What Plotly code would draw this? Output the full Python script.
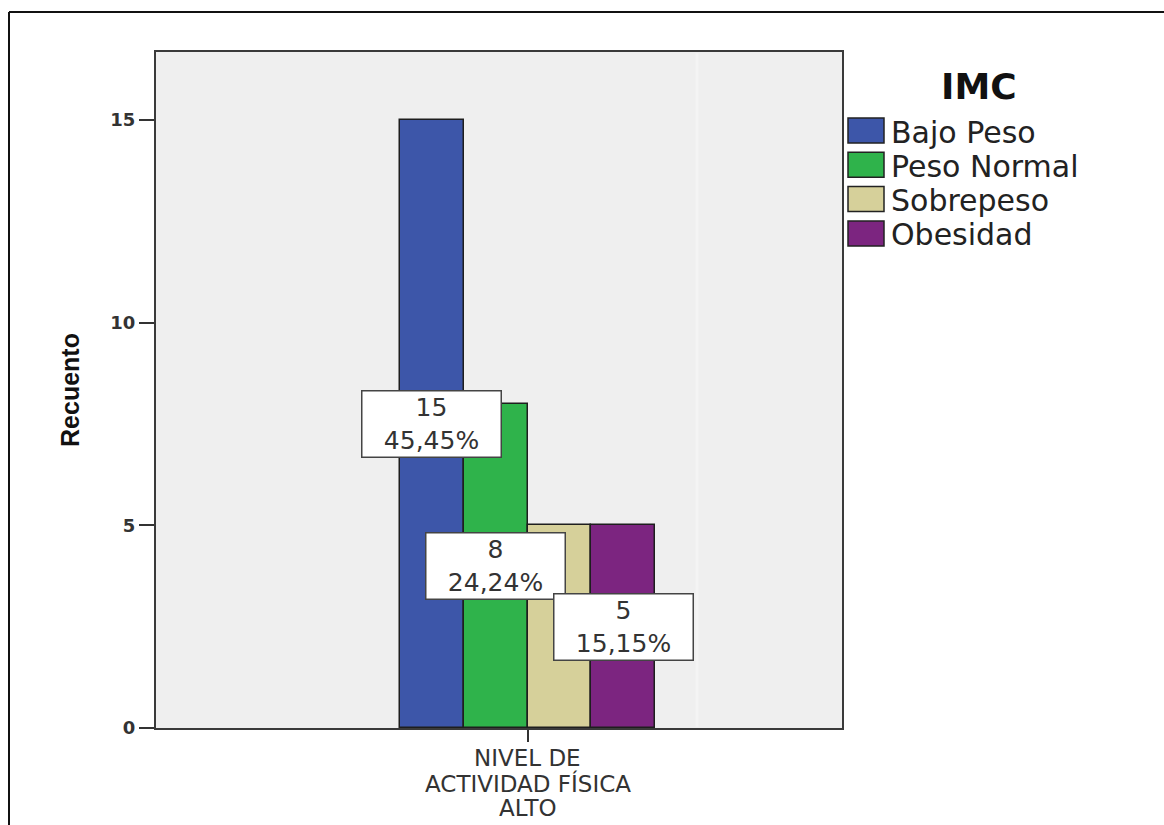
import plotly.graph_objects as go

# ---- data ----
CATEGORY_LINES = ["NIVEL DE", "ACTIVIDAD FÍSICA", "ALTO"]
SERIES = ["Bajo Peso", "Peso Normal", "Sobrepeso", "Obesidad"]
COUNTS = [15, 8, 5, 5]
COLORS = ["#3d56a9", "#2fb34b", "#d6d09a", "#7c2580"]
LABEL_SHOWN = [True, True, False, True]
Y_TICKS = [0, 5, 10, 15]
LEGEND_TITLE = "IMC"
Y_TITLE = "Recuento"

TOTAL = sum(COUNTS)

W, H = 1164, 825
ML, MR, MT, MB = 156, W - 842, 52, H - 728
PW, PH = W - ML - MR, H - MT - MB


def px_x(px):
    return (px - ML) / PW


def px_y(py):
    return (H - MB - py) / PH


fig = go.Figure()
for name, cnt, col in zip(SERIES, COUNTS, COLORS):
    fig.add_trace(go.Bar(
        x=[0], y=[cnt], name=name,
        marker=dict(color=col, line=dict(color="#1e1e1e", width=1.5)),
        showlegend=False, hoverinfo="skip",
    ))

# data labels (bordered boxes at mid-height of the bar)
n = len(SERIES)
annotations = []
for i, (cnt, show) in enumerate(zip(COUNTS, LABEL_SHOWN)):
    if not show:
        continue
    pct = f"{cnt / TOTAL * 100:.2f}".replace(".", ",")
    annotations.append(dict(
        x=(i - (n - 1) / 2) / n, y=cnt / 2, xref="x", yref="y",
        text=f"{cnt}<br>{pct}%", showarrow=False,
        font=dict(family="DejaVu Sans", size=25, color="#333333"),
        bgcolor="#ffffff", bordercolor="#444444", borderwidth=1.5,
        borderpad=1, width=136, height=63, align="center",
    ))

# category label, one line per annotation for tight line spacing
for j, line in enumerate(CATEGORY_LINES):
    annotations.append(dict(
        x=0, xref="x", y=px_y(758 + 25 * j), yref="paper",
        text=line, showarrow=False, xanchor="center", yanchor="middle",
        font=dict(family="DejaVu Sans", size=23, color="#333333"),
    ))

# legend (drawn manually to match swatch size)
shapes = []
annotations.append(dict(
    x=px_x(979), y=px_y(86), xref="paper", yref="paper",
    text=LEGEND_TITLE, showarrow=False, xanchor="center", yanchor="middle",
    font=dict(family="DejaVu Sans", size=36, color="#111111", weight="bold"),
))
for i, (name, col) in enumerate(zip(SERIES, COLORS)):
    top = 118 + i * 34.3
    shapes.append(dict(
        type="rect", xref="paper", yref="paper",
        x0=px_x(848), x1=px_x(884), y0=px_y(top + 25), y1=px_y(top),
        fillcolor=col, line=dict(color="#222222", width=1.5),
    ))
    annotations.append(dict(
        x=px_x(889), y=px_y(top + 14), xref="paper", yref="paper",
        text=name, showarrow=False, xanchor="left", yanchor="middle",
        font=dict(family="DejaVu Sans", size=30, color="#222222"),
    ))

# outer frame (left and top edges visible in the picture)
shapes.append(dict(
    type="line", xref="paper", yref="paper",
    x0=px_x(9), x1=px_x(9), y0=px_y(825), y1=px_y(12),
    line=dict(color="#111111", width=2),
))
shapes.append(dict(
    type="line", xref="paper", yref="paper",
    x0=px_x(9), x1=px_x(1164), y0=px_y(12), y1=px_y(12),
    line=dict(color="#111111", width=2),
))
# faint inner band line
shapes.append(dict(
    type="line", xref="paper", yref="paper",
    x0=px_x(697), x1=px_x(697), y0=0.002, y1=0.998,
    line=dict(color="#f4f4f4", width=3), layer="below",
))

unit = 255.0
fig.update_layout(
    width=W, height=H,
    margin=dict(l=ML, r=MR, t=MT, b=MB, pad=0, autoexpand=False),
    paper_bgcolor="#ffffff", plot_bgcolor="#efefef",
    barmode="group", bargap=0, bargroupgap=0,
    showlegend=False,
    shapes=shapes, annotations=annotations,
    xaxis=dict(
        range=[-(527.5 - 156) / unit, (842 - 527.5) / unit],
        tickvals=[0], showticklabels=False,
        ticks="outside", ticklen=12, tickwidth=2, tickcolor="#333333",
        automargin=False,
        showline=True, linecolor="#3a3a3a", linewidth=2, mirror=True,
        showgrid=False, zeroline=False, fixedrange=True,
    ),
    yaxis=dict(
        range=[0, (728 - 52) / ((728 - 120) / 15)],
        tickvals=Y_TICKS, automargin=False,
        ticks="outside", ticklen=15, tickwidth=2, tickcolor="#333333",
        tickfont=dict(family="DejaVu Sans", size=18, color="#333333", weight="bold"),
        showline=True, linecolor="#3a3a3a", linewidth=2, mirror=True,
        showgrid=False, zeroline=False,
        title=dict(text=Y_TITLE, standoff=24,
                   font=dict(family="Liberation Sans", size=25, color="#111111", weight="bold")),
    ),
)

fig.write_html("out.html")
